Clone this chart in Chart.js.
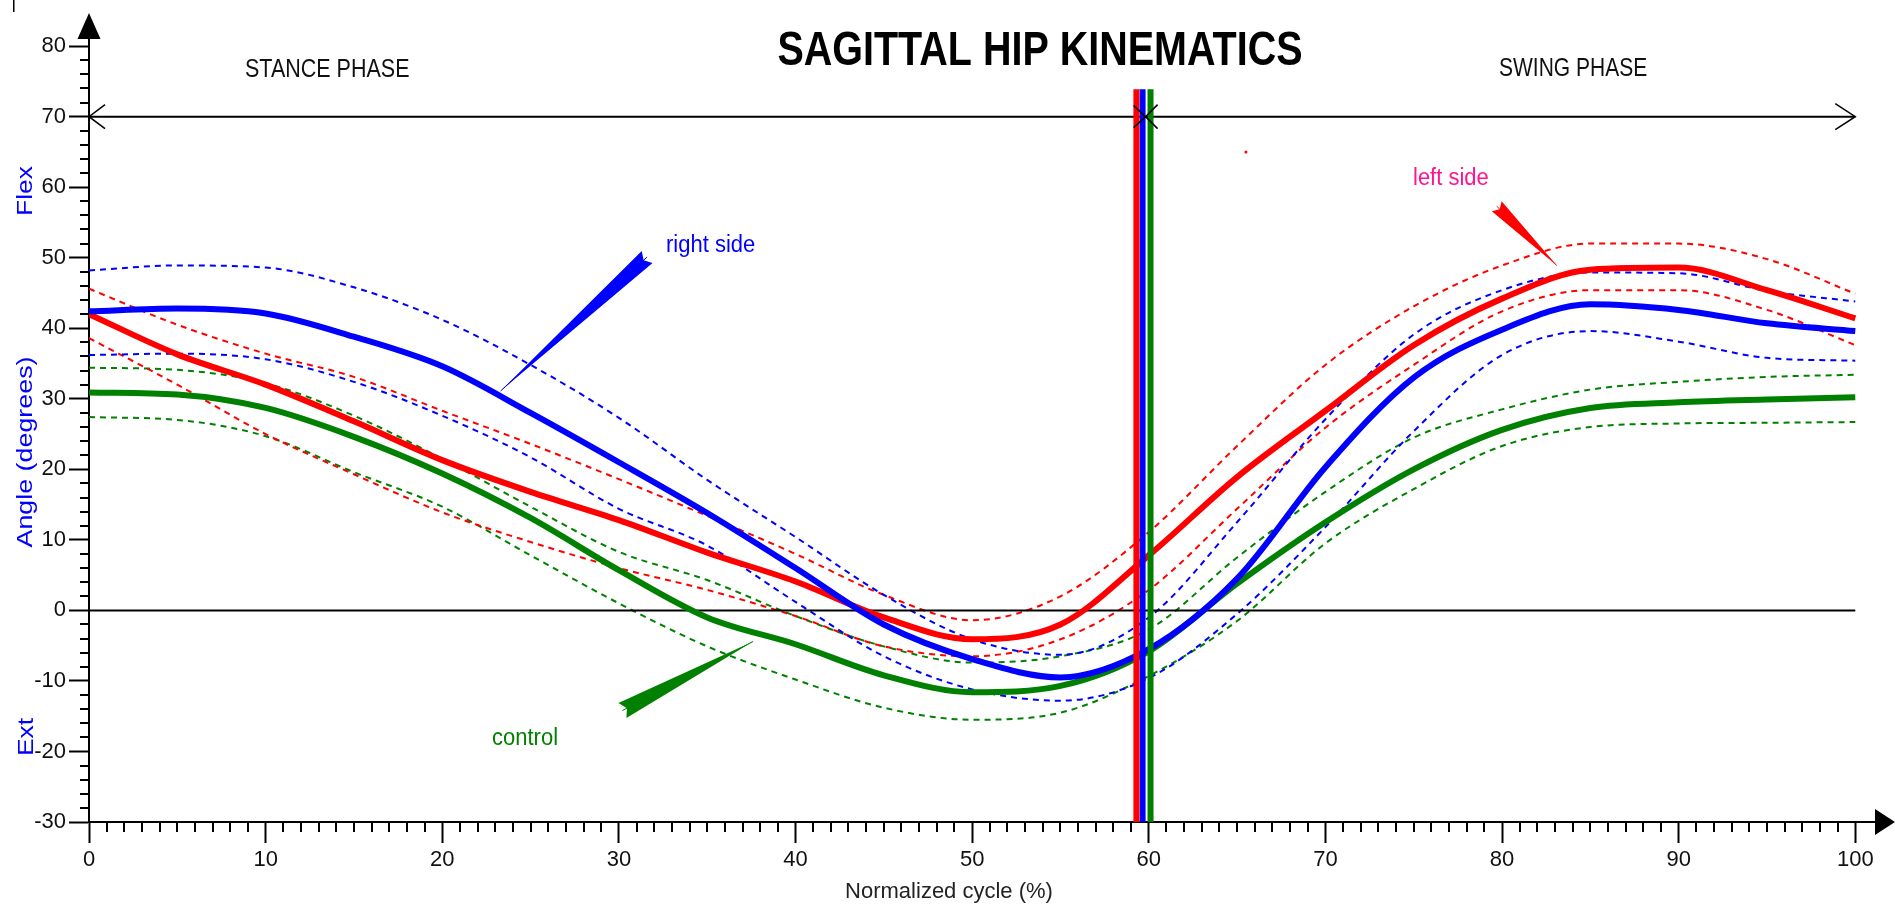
<!DOCTYPE html>
<html>
<head>
<meta charset="utf-8">
<title>Sagittal hip kinematics</title>
<script src="https://cdn.jsdelivr.net/npm/chart.js@4.4.1/dist/chart.umd.min.js"></script>
<style>
  html, body { margin: 0; padding: 0; background: #fff; }
  #wrap { width: 1895px; height: 905px; }
</style>
</head>
<body>
<div id="wrap"><canvas id="hipChart" width="1895" height="905"></canvas></div>
<script>
// ====== DATA ======
// normalized gait cycle (%)
const cycle = [0, 5, 10, 15, 20, 25, 30, 35, 40, 45, 50, 55, 60, 65, 70, 75, 80, 85, 90, 95, 100];

// right side (blue): mean and +/- 1 SD
const rightMean  = [42.4, 42.8, 42.1, 38.8, 34.6, 28.0, 21.0, 13.8, 6.0, -2.0, -6.9, -9.5, -5.5, 4.5, 20.3, 33.0, 39.8, 43.4, 42.6, 40.7, 39.6];
const rightUpper = [48.2, 48.9, 48.6, 45.8, 41.2, 34.8, 27.3, 18.5, 10.4, 2.2, -4.1, -6.3, -1.0, 12.5, 27.1, 39.1, 45.4, 47.9, 47.8, 45.3, 43.8];
const rightLower = [36.2, 36.4, 35.6, 32.4, 27.6, 21.7, 14.4, 9.2, 1.2, -6.5, -11.2, -12.8, -9.6, -0.5, 11.8, 25.4, 36.2, 39.6, 38.1, 35.8, 35.4];

// left side (red)
const leftMean  = [42.0, 36.3, 32.0, 26.8, 21.3, 16.8, 12.8, 8.2, 4.1, -1.0, -4.1, -2.0, 7.8, 18.9, 28.3, 37.6, 44.2, 48.3, 48.6, 45.4, 41.4];
const leftUpper = [45.6, 40.5, 36.4, 33.1, 28.3, 23.6, 18.6, 13.4, 8.0, 2.2, -1.4, 2.0, 11.1, 23.3, 34.8, 43.1, 48.9, 52.0, 52.0, 49.8, 44.9];
const leftLower = [38.6, 32.0, 25.0, 19.3, 13.9, 9.7, 6.0, 2.9, -0.8, -5.1, -6.5, -4.1, 2.9, 14.4, 25.9, 34.8, 42.4, 45.4, 45.4, 42.6, 37.6];

// control (green)
const controlMean  = [30.9, 30.6, 28.7, 24.6, 19.4, 13.1, 5.7, -1.0, -4.8, -9.2, -11.6, -10.7, -5.8, 3.8, 12.5, 20.0, 25.6, 28.7, 29.5, 29.9, 30.2];
const controlUpper = [34.4, 34.1, 32.2, 27.6, 21.5, 14.7, 8.3, 4.3, -0.8, -5.1, -7.4, -6.5, -2.7, 7.5, 16.8, 24.5, 28.5, 31.3, 32.4, 33.1, 33.4];
const controlLower = [27.4, 27.0, 24.7, 19.6, 14.7, 7.8, 1.0, -5.1, -9.8, -13.8, -15.5, -14.5, -9.3, -1.5, 9.5, 17.2, 23.3, 26.0, 26.5, 26.6, 26.7];

// toe-off (% of cycle)
const toeOffLeft    = 59.3;
const toeOffRight   = 59.65;
const toeOffControl = 60.1;

// stance / swing arrow level, and the stray dot in the original
const phaseLevel = 70;
const strayDot   = [{ x: 65.5, y: 65 }];

// tick labels
const xTicks = [0, 10, 20, 30, 40, 50, 60, 70, 80, 90, 100];
const yTicks = [-30, -20, -10, 0, 10, 20, 30, 40, 50, 60, 70, 80];

// ====== CONSTANTS ======
const FONT   = '"Liberation Sans", Arial, sans-serif';
const X_MAX  = 101.4;   // axis runs a little past 100 (arrow)
const Y_MIN  = -30;
const Y_MAX  = 83.7;
const BAR_TOP = 73.9;

const RED = '#ff0000', BLUE = '#0000ff', GREEN = '#008000';

// ====== HELPERS ======
const pts = arr => cycle.map((c, i) => ({ x: c, y: arr[i] }));

function meanLine(label, arr, color, order) {
  return { label, data: pts(arr), borderColor: color, borderWidth: 6, pointRadius: 0,
           cubicInterpolationMode: 'monotone', order };
}
function sdLine(label, arr, color) {
  return { label, data: pts(arr), borderColor: color, borderWidth: 2, borderDash: [6, 5],
           pointRadius: 0, cubicInterpolationMode: 'monotone', order: 5 };
}
function toeOffBar(label, value, color) {
  return { label, data: [{ x: value, y: Y_MIN }, { x: value, y: BAR_TOP }],
           borderColor: color, borderWidth: 6, pointRadius: 0, borderCapStyle: 'butt', order: 0 };
}

function stretchedText(ctx, text, x, y, font, color, sy, align) {
  ctx.save();
  ctx.translate(x, y);
  ctx.scale(1, sy);
  ctx.font = font;
  ctx.fillStyle = color;
  ctx.textAlign = align || 'left';
  ctx.textBaseline = 'alphabetic';
  ctx.fillText(text, 0, 0);
  ctx.restore();
}

function verticalText(ctx, text, cx, cy, font, color, stretch) {
  ctx.save();
  ctx.translate(cx, cy);
  ctx.rotate(-Math.PI / 2);
  ctx.scale(stretch, 1);
  ctx.font = font;
  ctx.fillStyle = color;
  ctx.textAlign = 'center';
  ctx.textBaseline = 'middle';
  ctx.fillText(text, 0, 0);
  ctx.restore();
}

// tapering pointer: thin end on the curve, notched thick end at the label
function wedge(ctx, xs, ys, p1, p2, width, color) {
  const x1 = xs.getPixelForValue(p1[0]), y1 = ys.getPixelForValue(p1[1]);
  const x2 = xs.getPixelForValue(p2[0]), y2 = ys.getPixelForValue(p2[1]);
  const dx = x2 - x1, dy = y2 - y1, len = Math.hypot(dx, dy);
  const ux = dx / len, uy = dy / len, nx = -uy, ny = ux;
  const h = width / 2;
  ctx.save();
  ctx.fillStyle = color;
  ctx.beginPath();
  ctx.moveTo(x1, y1);
  ctx.lineTo(x2 + nx * h, y2 + ny * h);
  ctx.lineTo(x2 - ux * width * 0.3, y2 - uy * width * 0.3);
  ctx.lineTo(x2 - nx * h, y2 - ny * h);
  ctx.closePath();
  ctx.fill();
  ctx.lineWidth = 1;
  ctx.strokeStyle = color;
  ctx.beginPath();
  ctx.moveTo(x1, y1);
  ctx.lineTo(x2, y2);
  ctx.stroke();
  ctx.restore();
}

function chevron(ctx, x, y, dir, len, half) {
  ctx.beginPath();
  ctx.moveTo(x - dir * len, y - half);
  ctx.lineTo(x, y);
  ctx.lineTo(x - dir * len, y + half);
  ctx.stroke();
}

// ====== PLUGIN ======
const decor = {
  id: 'decor',
  afterDatasetsDraw(chart) {
    const { ctx, scales: { x, y } } = chart;

    // pointers to the curves
    wedge(ctx, x, y, [23.3, 31.1], [31.6, 50.1], 16, BLUE);
    wedge(ctx, x, y, [83.1, 48.9], [79.7, 57.3], 14, RED);
    wedge(ctx, x, y, [37.6, -4.4], [30.2, -14.2], 17, GREEN);

    // stance / swing arrow heads
    const py = y.getPixelForValue(phaseLevel);
    ctx.save();
    ctx.strokeStyle = '#000';
    ctx.lineWidth = 1.5;
    chevron(ctx, x.getPixelForValue(0), py, -1, 16, 12);
    chevron(ctx, x.getPixelForValue(100), py, 1, 20, 13);
    const cx = x.getPixelForValue(toeOffRight) + 3;
    chevron(ctx, cx, py, 1, 12, 11);
    chevron(ctx, cx, py, -1, 12, 12);
    ctx.restore();
  },
  afterDraw(chart) {
    const { ctx, chartArea, scales: { x, y } } = chart;
    const left = chartArea.left, bottom = chartArea.bottom;

    ctx.save();
    ctx.strokeStyle = '#000';
    ctx.lineWidth = 2;
    // minor ticks
    ctx.beginPath();
    for (let v = Y_MIN + 2; v < 80; v += 2) {
      if (v % 10 === 0) continue;
      const p = Math.round(y.getPixelForValue(v));
      ctx.moveTo(left - 9, p);
      ctx.lineTo(left, p);
    }
    for (let v = 1; v < 100; v++) {
      if (v % 10 === 0) continue;
      const p = Math.round(x.getPixelForValue(v));
      ctx.moveTo(p, bottom);
      ctx.lineTo(p, bottom + 10);
    }
    ctx.stroke();

    // axis arrows
    ctx.fillStyle = '#000';
    ctx.beginPath();
    ctx.moveTo(left, 13);
    ctx.lineTo(left - 11.5, 39);
    ctx.lineTo(left + 11.5, 39);
    ctx.closePath();
    ctx.fill();
    ctx.beginPath();
    ctx.moveTo(1895, bottom);
    ctx.lineTo(1875, bottom - 13);
    ctx.lineTo(1875, bottom + 13);
    ctx.closePath();
    ctx.fill();

    // small mark in the top-left corner of the original
    ctx.fillRect(13, 0, 1.5, 12);
    ctx.restore();

    // texts
    stretchedText(ctx, 'SAGITTAL HIP KINEMATICS', 1040, 65, 'bold 39.5px ' + FONT, '#000', 1.22, 'center');
    stretchedText(ctx, 'STANCE PHASE', 245, 77, '21.5px ' + FONT, '#111', 1.2);
    stretchedText(ctx, 'SWING PHASE', 1499, 76, '21px ' + FONT, '#111', 1.2);
    stretchedText(ctx, 'right side', 666, 252, '22px ' + FONT, BLUE, 1.1);
    stretchedText(ctx, 'left side', 1413, 185, '22px ' + FONT, '#ff1493', 1.1);
    stretchedText(ctx, 'control', 492, 745, '22px ' + FONT, GREEN, 1.1);
    stretchedText(ctx, 'Normalized cycle (%)', 949, 898, '22px ' + FONT, '#222', 1.0, 'center');

    verticalText(ctx, 'Flex', 26, 191, '22px ' + FONT, BLUE, 1.2);
    verticalText(ctx, 'Angle (degrees)', 26, 452, '22px ' + FONT, BLUE, 1.22);
    verticalText(ctx, 'Ext', 27, 737, '22px ' + FONT, BLUE, 1.2);
  }
};

// ====== CHART ======
const datasets = [
  toeOffBar('left toe-off', toeOffLeft, RED),
  toeOffBar('right toe-off', toeOffRight, BLUE),
  toeOffBar('control toe-off', toeOffControl, GREEN),
  meanLine('right side', rightMean, BLUE, 1),
  meanLine('left side', leftMean, RED, 2),
  meanLine('control', controlMean, GREEN, 3),
  { label: 'zero', data: [{ x: 0, y: 0 }, { x: 100, y: 0 }], borderColor: '#000', borderWidth: 2,
    pointRadius: 0, order: 4 },
  { label: 'phase', data: [{ x: 0, y: phaseLevel }, { x: 100, y: phaseLevel }], borderColor: '#000',
    borderWidth: 2, pointRadius: 0, order: 4 },
  sdLine('right +SD', rightUpper, BLUE),
  sdLine('right -SD', rightLower, BLUE),
  sdLine('left +SD', leftUpper, RED),
  sdLine('left -SD', leftLower, RED),
  sdLine('control +SD', controlUpper, GREEN),
  sdLine('control -SD', controlLower, GREEN),
  { label: 'dot', data: strayDot, showLine: false, pointRadius: 1.5, pointBackgroundColor: RED,
    pointBorderWidth: 0, order: 6 }
];

new Chart(document.getElementById('hipChart').getContext('2d'), {
  type: 'line',
  data: { datasets },
  options: {
    responsive: false,
    animation: false,
    devicePixelRatio: 1,
    layout: { padding: { top: 20, right: 15, left: 0, bottom: 0 } },
    plugins: { legend: { display: false }, tooltip: { enabled: false } },
    scales: {
      x: {
        type: 'linear', min: 0, max: X_MAX,
        afterBuildTicks: s => { s.ticks = xTicks.map(v => ({ value: v })); },
        afterFit: s => { s.height = 83; },
        grid: { drawOnChartArea: false, drawTicks: true, tickLength: 21, tickWidth: 2, tickColor: '#000' },
        border: { display: true, color: '#000', width: 2 },
        ticks: { font: { family: FONT, size: 22 }, color: '#111', padding: 4, maxRotation: 0,
                 autoSkip: false, callback: v => String(v) }
      },
      y: {
        type: 'linear', min: Y_MIN, max: Y_MAX,
        afterBuildTicks: s => { s.ticks = yTicks.map(v => ({ value: v })); },
        afterFit: s => { s.width = 89; },
        grid: { drawOnChartArea: false, drawTicks: true, tickLength: 20, tickWidth: 2, tickColor: '#000' },
        border: { display: true, color: '#000', width: 2 },
        ticks: { font: { family: FONT, size: 22 }, color: '#111', padding: 3, autoSkip: false,
                 callback: v => String(v) }
      }
    }
  },
  plugins: [decor]
});
</script>
</body>
</html>
